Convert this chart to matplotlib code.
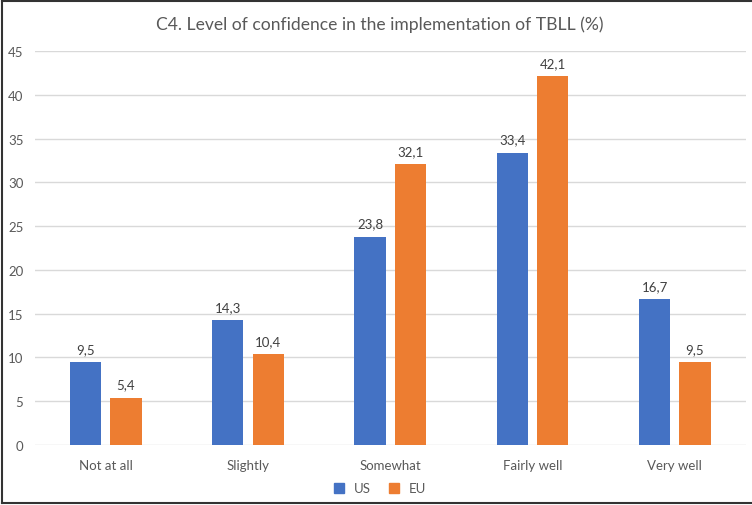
import matplotlib
matplotlib.use("Agg")
import matplotlib.pyplot as plt
import numpy as np
from matplotlib.lines import Line2D

categories = ["Not at all", "Slightly", "Somewhat", "Fairly well", "Very well"]
us = [9.5, 14.3, 23.8, 33.4, 16.7]
eu = [5.4, 10.4, 32.1, 42.1, 9.5]
series_names = ["US", "EU"]
title = "C4. Level of confidence in the implementation of TBLL (%)"

plt.rcParams['font.family'] = ['Lato', 'DejaVu Sans']

fig = plt.figure(figsize=(7.52, 5.06), dpi=100)
ax = fig.add_axes([0.046, 0.119, 0.946, 0.778])

x = np.arange(len(categories))
w = 0.22
off = 0.142
c_us = "#4472C4"
c_eu = "#ED7D31"
b1 = ax.bar(x - off, us, w, color=c_us, label=series_names[0], zorder=3)
b2 = ax.bar(x + off, eu, w, color=c_eu, label=series_names[1], zorder=3)

for bars, vals in ((b1, us), (b2, eu)):
    for b, v in zip(bars, vals):
        ax.annotate(f"{v:.1f}".replace(".", ","), (b.get_x() + b.get_width() / 2, v),
                    xytext=(0, 5), textcoords="offset points", ha="center", va="bottom",
                    fontsize=9.5, color="#404040")

ax.set_xlim(-0.5, len(categories) - 0.5)
ax.set_ylim(0, 45)
ax.set_yticks(range(0, 46, 5))
ax.set_xticks(x)
ax.set_xticklabels(categories)
ax.tick_params(axis="both", length=0, labelsize=9.5, labelcolor="#595959")
ax.tick_params(axis="x", pad=10)
ax.tick_params(axis="y", pad=8)
ax.grid(axis="y", color="#D9D9D9", linewidth=1, zorder=0)
for s in ax.spines.values():
    s.set_visible(False)

fig.text(0.505, 0.951, title, ha="center", va="center", fontsize=12.6, color="#595959")

handles = [Line2D([], [], marker="s", linestyle="none", markersize=7, color=c_us),
           Line2D([], [], marker="s", linestyle="none", markersize=7, color=c_eu)]
fig.legend(handles, series_names, loc="center", bbox_to_anchor=(0.5, 0.033), ncol=2,
           frameon=False, fontsize=9.5, handletextpad=0.1, columnspacing=0.8,
           labelcolor="#595959")

# figure border
fig.add_artist(Line2D([0.003, 0.003], [0.004, 0.996], transform=fig.transFigure, color="#333333", lw=1.5))
fig.add_artist(Line2D([0.003, 1.0], [0.996, 0.996], transform=fig.transFigure, color="#333333", lw=1.5))
fig.add_artist(Line2D([0.003, 1.0], [0.004, 0.004], transform=fig.transFigure, color="#333333", lw=1.5))

fig.savefig("out.png", dpi=100)
